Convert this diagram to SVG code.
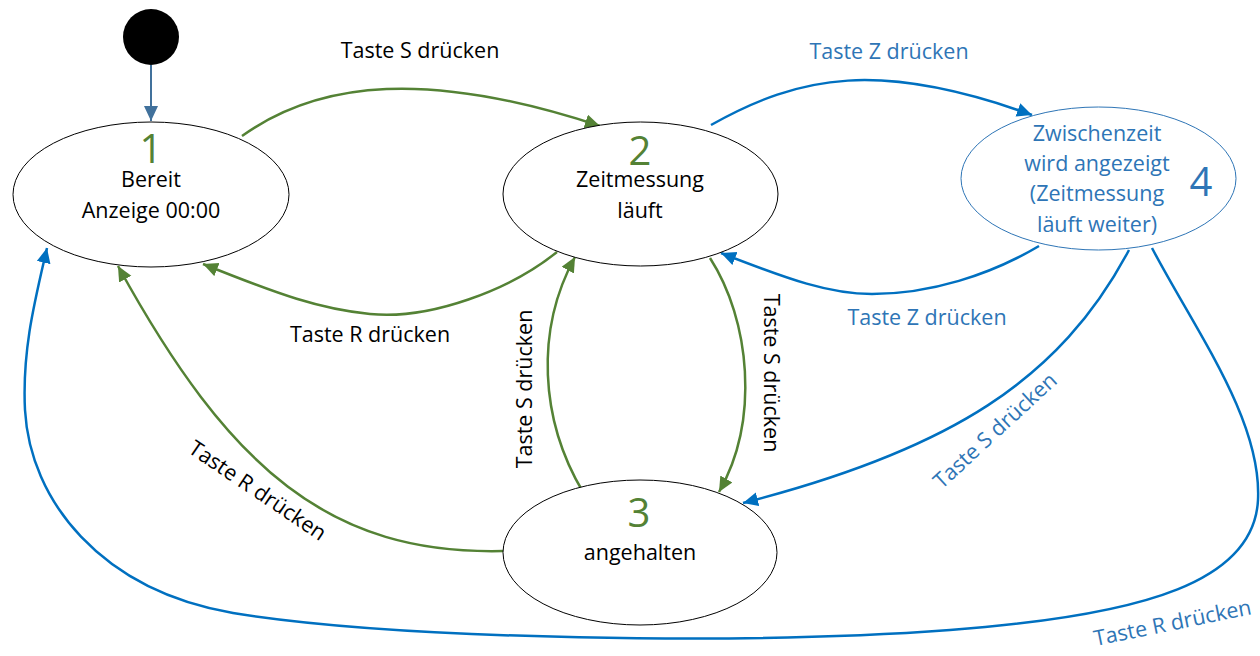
<svg xmlns="http://www.w3.org/2000/svg" width="1260" height="656" viewBox="0 0 1260 656">
<defs>
<style>
.node{fill:#fff;stroke:#000;stroke-width:1}
.node4{fill:#fff;stroke:#2e75b6;stroke-width:1}
.t{font-family:"Open Sans","Liberation Sans",sans-serif;font-size:21.5px;text-anchor:middle}
.dg{font-family:"Open Sans","Liberation Sans",sans-serif;font-size:40px;text-anchor:middle}
.blk{fill:#000}
.grn{fill:#548235}
.blu{fill:#2e75b6}
.cg{fill:none;stroke:#548235;stroke-width:2.5}
.cb{fill:none;stroke:#0070c0;stroke-width:2.5}
.cs{fill:none;stroke:#41719c;stroke-width:2}
</style>
<marker id="ag" markerUnits="userSpaceOnUse" markerWidth="16" markerHeight="16" refX="15" refY="7" orient="auto"><path d="M0,0 L15,7 L0,14 z" fill="#548235"/></marker>
<marker id="ab" markerUnits="userSpaceOnUse" markerWidth="16" markerHeight="16" refX="15" refY="7" orient="auto"><path d="M0,0 L15,7 L0,14 z" fill="#0070c0"/></marker>
<marker id="as" markerUnits="userSpaceOnUse" markerWidth="16" markerHeight="16" refX="15" refY="7" orient="auto"><path d="M0,0 L15,7 L0,14 z" fill="#41719c"/></marker>
</defs>
<rect width="1260" height="656" fill="#fff"/>

<g id="connectors">
<path class="cs" d="M151,65 L151,121" marker-end="url(#as)"/>
<path class="cg" d="M242,136 C320,80 430,70 600,126" marker-end="url(#ag)"/>
<path class="cg" d="M557,252 C510,290 430,320 370,314 C320,309 280,295 203,264" marker-end="url(#ag)"/>
<path class="cg" d="M503,551 C330,555 230,470 118,266" marker-end="url(#ag)"/>
<path class="cg" d="M583,492 C540,420 535,330 575,257" marker-end="url(#ag)"/>
<path class="cg" d="M710,258 C750,320 760,420 719,492" marker-end="url(#ag)"/>
<path class="cb" d="M711,125 C800,75 880,60 1032,115" marker-end="url(#ab)"/>
<path class="cb" d="M1039,246 C990,275 930,294 872,294 C830,294 790,280 721,253" marker-end="url(#ab)"/>
<path class="cb" d="M1129,250 C1060,380 950,450 743,503" marker-end="url(#ab)"/>
<path class="cb" d="M1152,248 C1195,330 1262,420 1258,500 C1254,580 1150,615 950,630 C750,645 400,640 233,613 C100,590 30,500 25,410 C22,350 35,300 47,248" marker-end="url(#ab)"/>
<text class="t blk" x="420" y="58">Taste S drücken</text>
<text class="t blu" x="889" y="59">Taste Z drücken</text>
<text class="t blk" x="370" y="342">Taste R drücken</text>
<text class="t blu" x="927" y="325">Taste Z drücken</text>
<text class="t blk" transform="translate(532,389) rotate(-90)">Taste S drücken</text>
<text class="t blk" transform="translate(764,373) rotate(90)">Taste S drücken</text>
<text class="t blk" transform="translate(253.5,496.6) rotate(34)">Taste R drücken</text>
<text class="t blu" transform="translate(1000,436) rotate(-42.7)">Taste S drücken</text>
<text class="t blu" transform="translate(1174,630) rotate(-11.5)">Taste R drücken</text>
</g>

<g id="start">
<circle cx="151" cy="37" r="28" fill="#000"/>
</g>

<g id="node1">
<ellipse class="node" cx="151" cy="194.5" rx="138" ry="72.5"/>
<text class="dg grn" x="151" y="163">1</text>
<text class="t blk" x="151" y="187">Bereit</text>
<text class="t blk" x="151" y="218">Anzeige 00:00</text>
</g>

<g id="node2">
<ellipse class="node" cx="640.5" cy="194" rx="137.5" ry="72"/>
<text class="dg grn" x="640" y="165">2</text>
<text class="t blk" x="640" y="187">Zeitmessung</text>
<text class="t blk" x="640" y="218">läuft</text>
</g>

<g id="node3">
<ellipse class="node" cx="640" cy="552.5" rx="137" ry="72.5"/>
<text class="dg grn" x="639" y="527">3</text>
<text class="t blk" x="640" y="560">angehalten</text>
</g>

<g id="node4">
<ellipse class="node4" cx="1098.5" cy="178.5" rx="137.5" ry="71.5"/>
<text class="t blu" x="1097" y="141">Zwischenzeit</text>
<text class="t blu" x="1097" y="171">wird angezeigt</text>
<text class="t blu" x="1097" y="201">(Zeitmessung</text>
<text class="t blu" x="1097" y="232">läuft weiter)</text>
<text class="dg blu" x="1201" y="196">4</text>
</g>
</svg>
